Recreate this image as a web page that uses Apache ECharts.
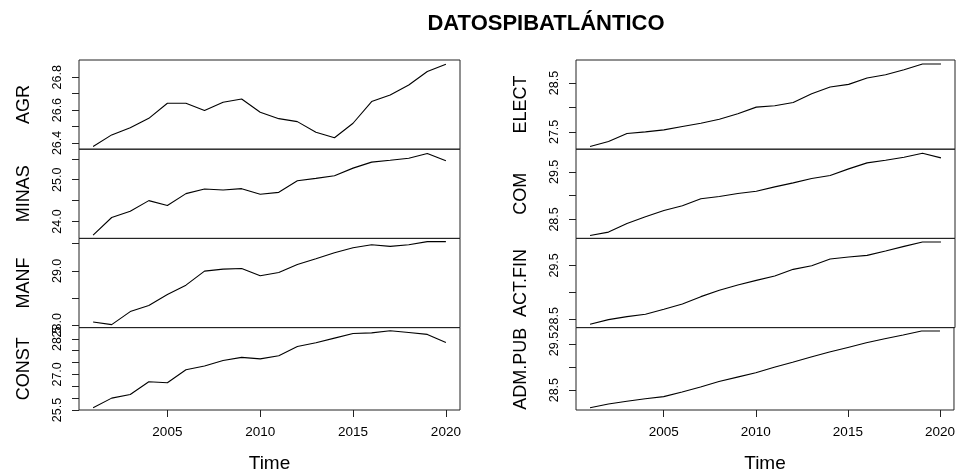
<!DOCTYPE html>
<html>
<head>
<meta charset="utf-8">
<script src="https://cdn.jsdelivr.net/npm/echarts@6/dist/echarts.min.js"></script>
<style>
  html, body { margin: 0; padding: 0; background: #fff; }
  #chart { width: 958px; height: 474px; }
</style>
</head>
<body>
<div id="chart"></div>
<script>
// datos (log del PIB por sector)
const years = [2001, 2002, 2003, 2004, 2005, 2006, 2007, 2008, 2009, 2010,
  2011, 2012, 2013, 2014, 2015, 2016, 2017, 2018, 2019, 2020];

const agr = [26.378, 26.449, 26.493, 26.550, 26.642, 26.642, 26.597, 26.648, 26.668, 26.587,
  26.548, 26.530, 26.465, 26.432, 26.520, 26.652, 26.692, 26.753, 26.835, 26.879];
const minas = [23.675, 24.095, 24.246, 24.500, 24.381, 24.667, 24.778, 24.754, 24.786, 24.651,
  24.698, 24.976, 25.032, 25.095, 25.278, 25.421, 25.468, 25.516, 25.627, 25.452];
const manf = [28.061, 28.012, 28.252, 28.363, 28.565, 28.738, 28.996, 29.033, 29.045, 28.910,
  28.971, 29.119, 29.223, 29.334, 29.426, 29.481, 29.451, 29.481, 29.537, 29.537];
const constr = [25.591, 26.000, 26.152, 26.687, 26.648, 27.196, 27.352, 27.587, 27.717, 27.652,
  27.783, 28.174, 28.330, 28.526, 28.722, 28.748, 28.839, 28.761, 28.683, 28.343];
const elect = [27.199, 27.301, 27.466, 27.500, 27.541, 27.610, 27.678, 27.760, 27.870, 28.007,
  28.034, 28.103, 28.281, 28.418, 28.473, 28.603, 28.671, 28.774, 28.890, 28.890];
const com = [28.164, 28.234, 28.416, 28.556, 28.689, 28.787, 28.934, 28.983, 29.045, 29.094,
  29.185, 29.269, 29.360, 29.423, 29.563, 29.689, 29.745, 29.808, 29.892, 29.794];
const actFin = [28.407, 28.494, 28.549, 28.593, 28.685, 28.784, 28.920, 29.037, 29.136, 29.222,
  29.302, 29.426, 29.494, 29.617, 29.654, 29.685, 29.765, 29.852, 29.932, 29.932];
const admPub = [28.117, 28.198, 28.258, 28.312, 28.359, 28.460, 28.567, 28.688, 28.782, 28.876,
  28.997, 29.104, 29.218, 29.326, 29.426, 29.527, 29.614, 29.695, 29.782, 29.782];

// marcas y etiquetas de cada eje
const xTicks = [2005, 2010, 2015, 2020];
const agrTicks = [26.4, 26.5, 26.6, 26.7, 26.8];
const agrLabels = [26.4, 26.6, 26.8];
const minasTicks = [24, 24.5, 25, 25.5];
const minasLabels = [24, 25];
const manfTicks = [28, 28.5, 29, 29.5];
const manfLabels = [28, 29];
const constTicks = [25.5, 26, 26.5, 27, 27.5, 28, 28.5];
const constLabels = [25.5, 27, 28.5];
const electTicks = [27.5, 28, 28.5];
const electLabels = [27.5, 28.5];
const comTicks = [28.5, 29, 29.5];
const comLabels = [28.5, 29.5];
const actFinTicks = [28.5, 29, 29.5];
const actFinLabels = [28.5, 29.5];
const admPubTicks = [28.5, 29, 29.5];
const admPubLabels = [28.5, 29.5];

const panels = [
  { name: 'AGR', data: agr, ticks: agrTicks, labels: agrLabels, min: 26.362, max: 26.905, col: 0, row: 0 },
  { name: 'MINAS', data: minas, ticks: minasTicks, labels: minasLabels, min: 23.595, max: 25.731, col: 0, row: 1 },
  { name: 'MANF', data: manf, ticks: manfTicks, labels: manfLabels, min: 27.958, max: 29.597, col: 0, row: 2 },
  { name: 'CONST', data: constr, ticks: constTicks, labels: constLabels, min: 25.5, max: 28.97, col: 0, row: 3 },
  { name: 'ELECT', data: elect, ticks: electTicks, labels: electLabels, min: 27.145, max: 28.972, col: 1, row: 0 },
  { name: 'COM', data: com, ticks: comTicks, labels: comLabels, min: 28.102, max: 29.976, col: 1, row: 1 },
  { name: 'ACT.FIN', data: actFin, ticks: actFinTicks, labels: actFinLabels, min: 28.346, max: 30.0, col: 1, row: 2 },
  { name: 'ADM.PUB', data: admPub, ticks: admPubTicks, labels: admPubLabels, min: 28.069, max: 29.857, col: 1, row: 3 }
];

const FONT = 'Liberation Sans, Arial, sans-serif';
const colLeft = [79, 576];
const colWidth = [381, 379];
const top0 = 60;
const rowH = 89.2;

const chart = echarts.init(document.getElementById('chart'), null, { renderer: 'canvas' });

const grid = [], xAxis = [], yAxis = [], series = [];
panels.forEach((p, i) => {
  const bottom = p.row === 3;
  grid.push({
    left: colLeft[p.col],
    width: colWidth[p.col],
    top: top0 + p.row * rowH,
    height: rowH,
    show: true,
    borderColor: '#222',
    borderWidth: 1,
    containLabel: false
  });
  xAxis.push({
    type: 'value',
    gridIndex: i,
    min: 2000.24,
    max: 2020.76,
    show: bottom,
    name: bottom ? 'Time' : '',
    nameLocation: 'middle',
    nameGap: 44,
    nameTextStyle: { fontFamily: FONT, fontSize: 19, color: '#000' },
    axisLine: { show: false },
    splitLine: { show: false },
    axisTick: {
      show: bottom,
      length: 7,
      customValues: xTicks,
      lineStyle: { color: '#222' }
    },
    axisLabel: {
      show: bottom,
      customValues: xTicks,
      margin: 15,
      fontFamily: FONT,
      fontSize: 13.5,
      color: '#000',
      formatter: v => String(v)
    }
  });
  yAxis.push({
    type: 'value',
    gridIndex: i,
    min: p.min,
    max: p.max,
    name: p.name,
    nameLocation: 'middle',
    nameRotate: 90,
    nameGap: 46,
    nameTextStyle: { fontFamily: FONT, fontSize: 18, color: '#000' },
    axisLine: { show: false },
    splitLine: { show: false },
    axisTick: {
      show: true,
      length: 7,
      customValues: p.ticks,
      lineStyle: { color: '#222' }
    },
    axisLabel: {
      customValues: p.labels,
      rotate: 90,
      margin: 15,
      fontFamily: FONT,
      fontSize: 12.5,
      color: '#000',
      formatter: v => v.toFixed(1)
    }
  });
  series.push({
    type: 'line',
    xAxisIndex: i,
    yAxisIndex: i,
    showSymbol: false,
    lineStyle: { color: '#000', width: 1.1 },
    data: years.map((y, k) => [y, p.data[k]])
  });
});

chart.setOption({
  animation: false,
  backgroundColor: '#fff',
  title: {
    text: 'DATOSPIBATLÁNTICO',
    left: 541,
    top: 8,
    textAlign: 'center',
    textStyle: { fontFamily: FONT, fontSize: 22, fontWeight: 'bold', color: '#000' }
  },
  grid: grid,
  xAxis: xAxis,
  yAxis: yAxis,
  series: series
});

window.addEventListener('resize', () => chart.resize());
</script>
</body>
</html>
